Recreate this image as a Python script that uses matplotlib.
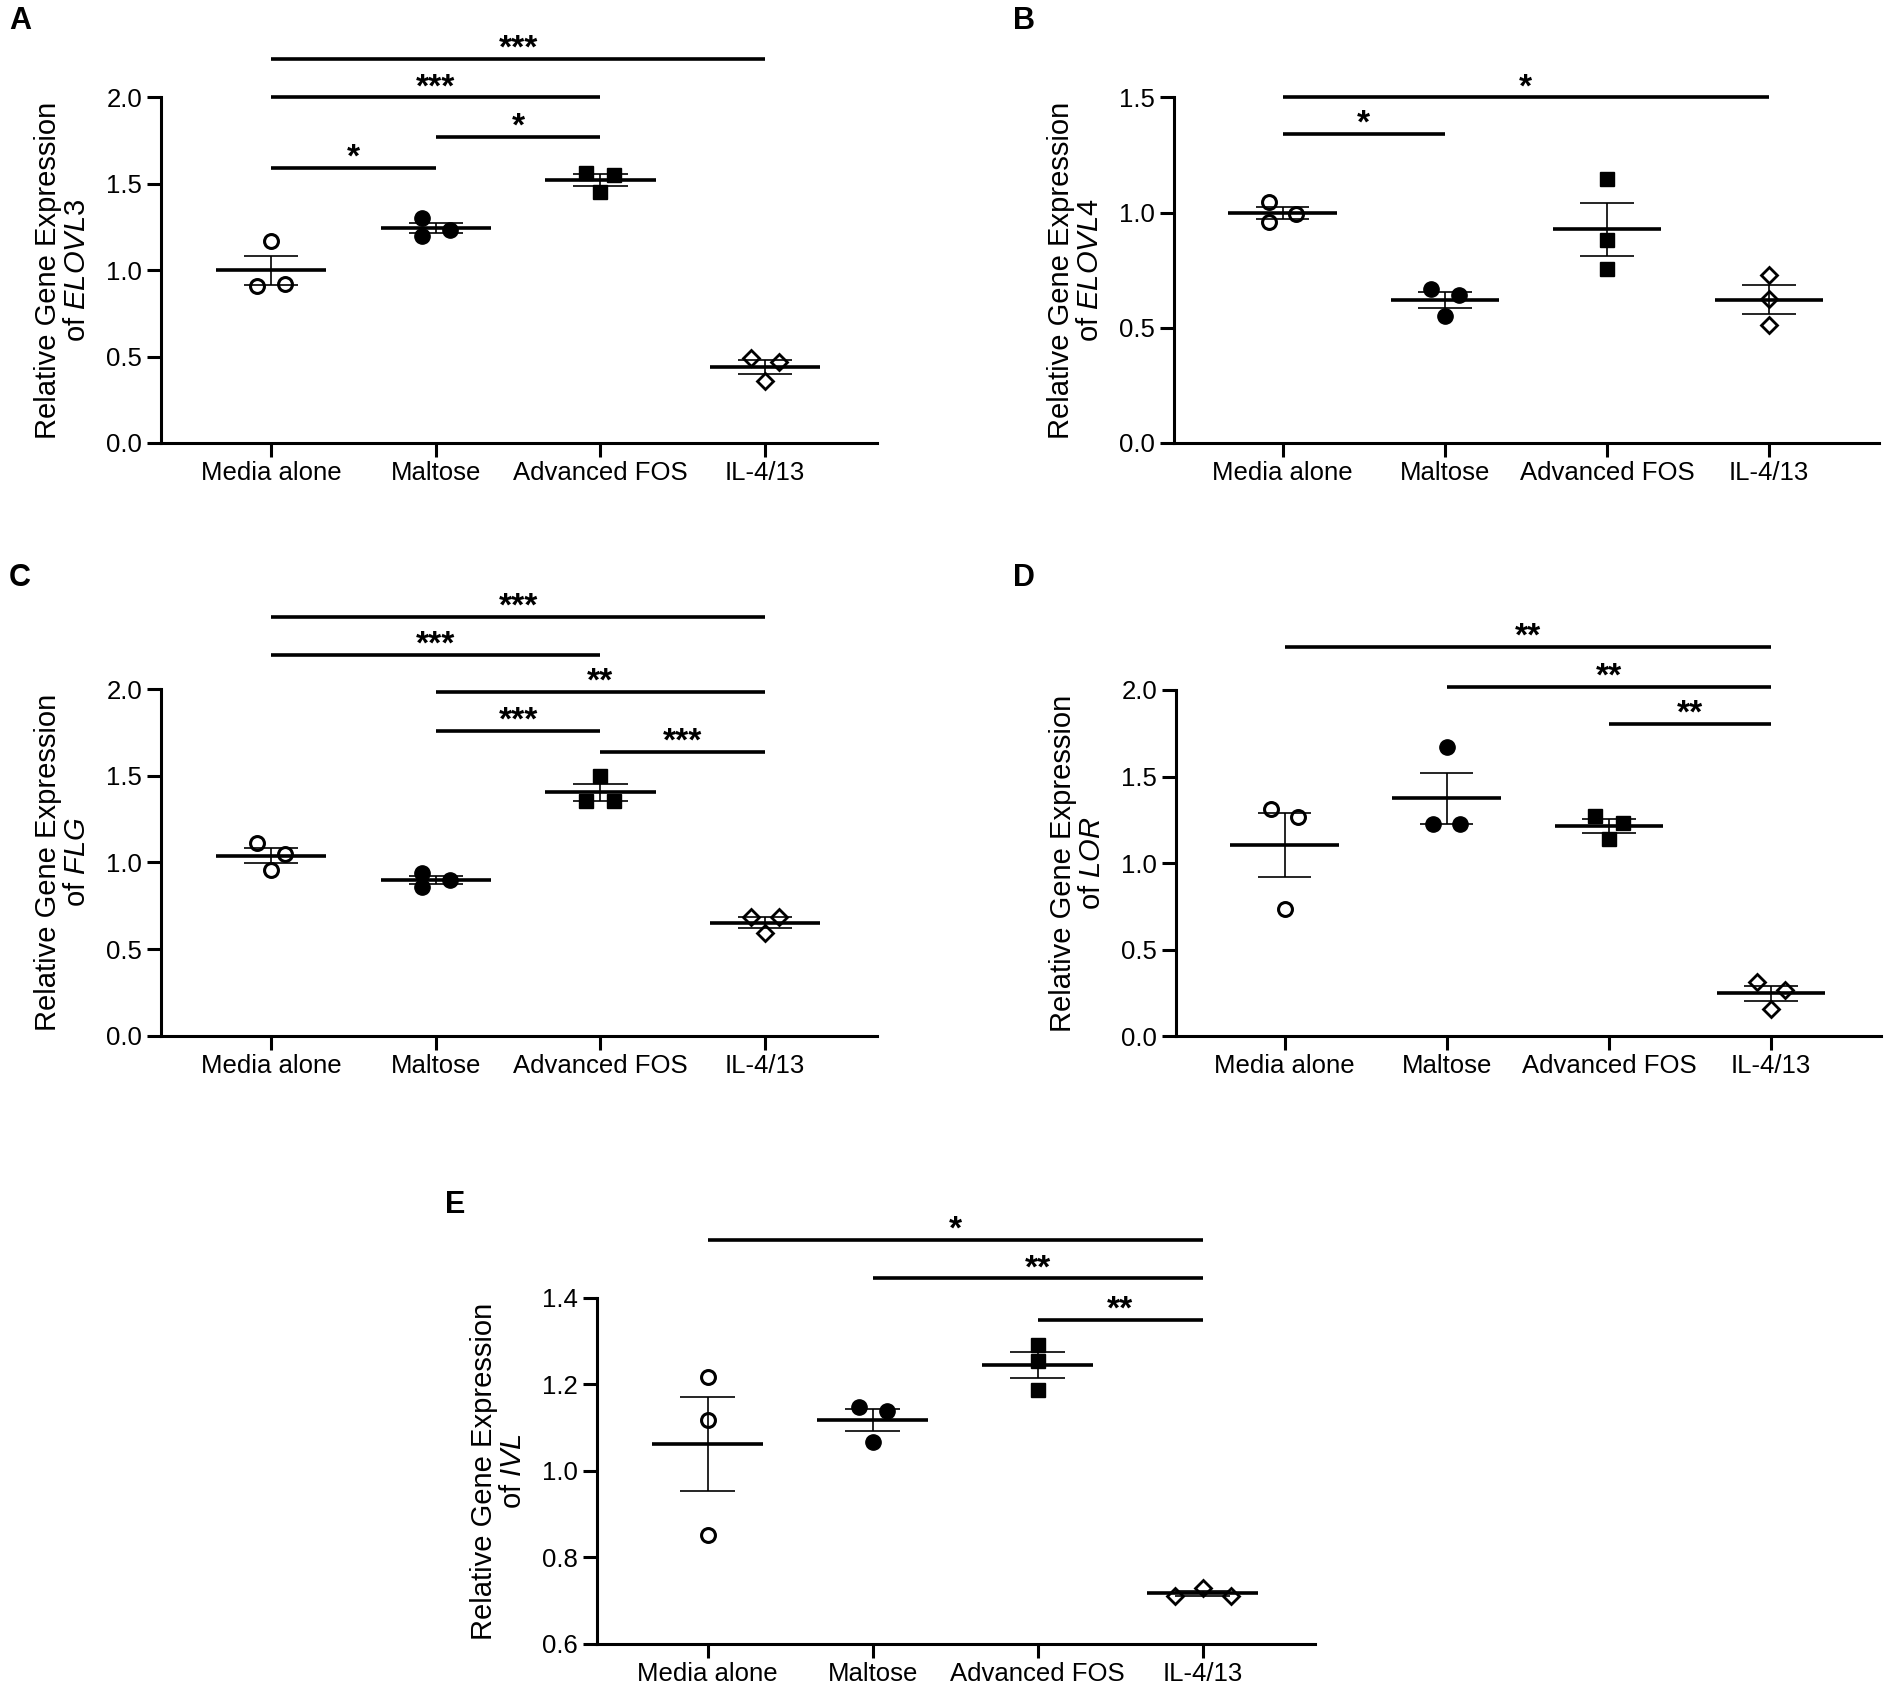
import numpy as np
import matplotlib
matplotlib.use("Agg")
import matplotlib.pyplot as plt
from matplotlib.ticker import FormatStrFormatter

plt.rcParams["font.family"] = ["Liberation Sans", "DejaVu Sans"]
plt.rcParams["mathtext.fontset"] = "custom"
plt.rcParams["mathtext.rm"] = "Liberation Sans"
plt.rcParams["mathtext.it"] = "Liberation Sans:italic"

# groups shared by every panel
groups = ["Media alone", "Maltose", "Advanced FOS", "IL-4/13"]

# replicate values (3 per group)
elovl3 = [[1.17, 0.91, 0.92], [1.30, 1.20, 1.23], [1.56, 1.55, 1.45], [0.49, 0.47, 0.36]]
elovl4 = [[1.046, 0.958, 0.992], [0.669, 0.643, 0.55], [1.144, 0.883, 0.756], [0.731, 0.623, 0.511]]
flg = [[1.111, 1.052, 0.956], [0.94, 0.86, 0.90], [1.50, 1.357, 1.357], [0.683, 0.683, 0.592]]
lor = [[1.31, 1.264, 0.732], [1.672, 1.224, 1.224], [1.27, 1.23, 1.14], [0.314, 0.265, 0.159]]
ivl = [[1.218, 1.118, 0.853], [1.147, 1.138, 1.067], [1.292, 1.255, 1.187], [0.711, 0.729, 0.711]]

# significance brackets: (group a, group b, height, label)
sig_elovl3 = [(0, 3, 2.223, "***"), (0, 2, 2.0, "***"), (1, 2, 1.772, "*"), (0, 1, 1.593, "*")]
sig_elovl4 = [(0, 3, 1.5, "*"), (0, 1, 1.34, "*")]
sig_flg = [(0, 3, 2.42, "***"), (0, 2, 2.197, "***"), (1, 3, 1.984, "**"),
           (1, 2, 1.759, "***"), (2, 3, 1.641, "***")]
sig_lor = [(0, 3, 2.25, "**"), (1, 3, 2.02, "**"), (2, 3, 1.803, "**")]
sig_ivl = [(0, 3, 1.533, "*"), (1, 3, 1.445, "**"), (2, 3, 1.35, "**")]

# horizontal scatter of the replicate dots (layout only)
d = 0.085
off_elovl3 = [[0, -d, d], [-d, -d, d], [-d, d, 0], [-d, d, 0]]
off_elovl4 = [[-d, -d, d], [-d, d, 0], [0, 0, 0], [0, 0, 0]]
off_flg = [[-d, d, 0], [-d, -d, d], [0, -d, d], [-d, d, 0]]
off_lor = [[-d, d, 0], [0, -d, d], [-d, d, 0], [-d, d, 0]]
off_ivl = [[0, 0, 0], [-d, d, 0], [0, 0, 0], [-2 * d, 0, 2 * d]]

markers = [
    dict(marker="o", ms=10, mfc="none", mec="black", mew=2.2),
    dict(marker="o", ms=11, mfc="black", mec="black", mew=1),
    dict(marker="s", ms=9.5, mfc="black", mec="black", mew=1),
    dict(marker="D", ms=8, mfc="none", mec="black", mew=2.0),
]


def panel(ax, values, offsets, sigs, gene, ylim, yticks):
    for i, (vals, offs) in enumerate(zip(values, offsets)):
        vals = np.array(vals)
        xs = i + np.array(offs)
        ax.plot(xs, vals, ls="none", zorder=3, clip_on=False, **markers[i])
        m = vals.mean()
        sem = vals.std(ddof=1) / np.sqrt(len(vals))
        ax.hlines(m, i - 0.335, i + 0.335, color="black", lw=2.6, zorder=4)
        ax.hlines([m - sem, m + sem], i - 0.165, i + 0.165, color="black", lw=1.2, zorder=4)
        ax.vlines(i, m - sem, m + sem, color="black", lw=1.2, zorder=4)

    for a, b, y, lab in sigs:
        ax.plot([a, b], [y, y], color="black", lw=2.6, clip_on=False, solid_capstyle="butt")
        ax.annotate(lab, xy=((a + b) / 2, y), xytext=(0, 1), textcoords="offset points",
                    ha="center", va="baseline", fontsize=24, fontweight="bold",
                    annotation_clip=False)

    ax.set_xlim(-0.67, 3.68)
    ax.set_ylim(*ylim)
    ax.set_yticks(yticks)
    ax.yaxis.set_major_formatter(FormatStrFormatter("%.1f"))
    ax.set_xticks(range(len(groups)))
    ax.set_xticklabels(groups)
    for s in ["top", "right"]:
        ax.spines[s].set_visible(False)
    for s in ["left", "bottom"]:
        ax.spines[s].set_linewidth(2.2)
    ax.tick_params(axis="both", direction="out", length=10, width=2.2, labelsize=18.5)
    ax.tick_params(axis="x", pad=3)
    ax.tick_params(axis="y", pad=3.5)
    ax.set_ylabel("Relative Gene Expression\nof $\\mathit{" + gene + "}$", fontsize=21,
                  linespacing=1.05, labelpad=11)


fig = plt.figure(figsize=(19.01, 16.92), dpi=100)
ax_a = fig.add_axes([0.0847, 0.7382, 0.3766, 0.2042])
ax_b = fig.add_axes([0.6176, 0.7382, 0.3710, 0.2042])
ax_c = fig.add_axes([0.0847, 0.3880, 0.3766, 0.2045])
ax_d = fig.add_axes([0.6186, 0.3877, 0.3710, 0.2045])
ax_e = fig.add_axes([0.3140, 0.0284, 0.3777, 0.2045])

panel(ax_a, elovl3, off_elovl3, sig_elovl3, "ELOVL3", (0, 2.0), [0, 0.5, 1.0, 1.5, 2.0])
panel(ax_b, elovl4, off_elovl4, sig_elovl4, "ELOVL4", (0, 1.5), [0, 0.5, 1.0, 1.5])
panel(ax_c, flg, off_flg, sig_flg, "FLG", (0, 2.0), [0, 0.5, 1.0, 1.5, 2.0])
panel(ax_d, lor, off_lor, sig_lor, "LOR", (0, 2.0), [0, 0.5, 1.0, 1.5, 2.0])
panel(ax_e, ivl, off_ivl, sig_ivl, "IVL", (0.6, 1.4), [0.6, 0.8, 1.0, 1.2, 1.4])

# panel letters
W, H = 1901, 1692
for lab, px, py in [("A", 9, 6), ("B", 1013, 6), ("C", 9, 563), ("D", 1013, 563), ("E", 445, 1190)]:
    fig.text(px / W, 1 - py / H, lab, fontsize=22, fontweight="bold", ha="left", va="top")

fig.savefig("out.png", dpi=100)
